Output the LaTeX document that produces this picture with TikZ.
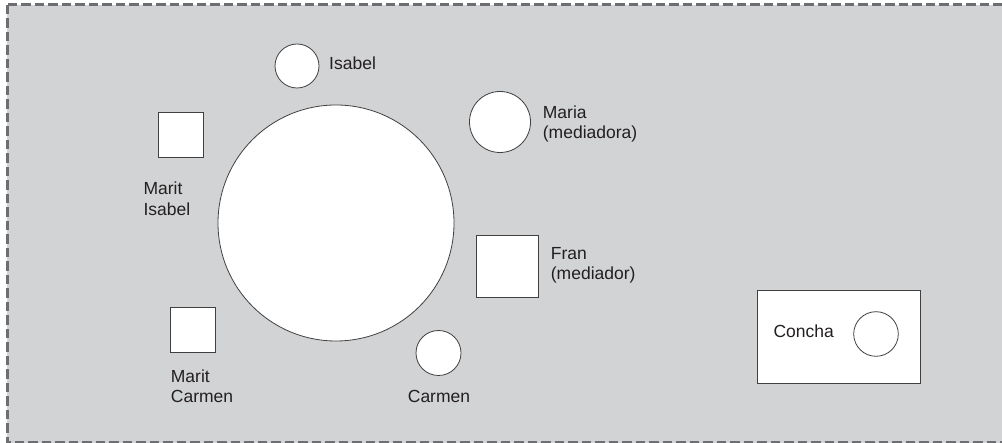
\documentclass[tikz,border=0pt]{standalone}
\usepackage{fontspec}
\setmainfont{Liberation Sans}

\definecolor{fondo}{HTML}{D1D3D4}
\definecolor{borde}{HTML}{6D6E71}
\definecolor{linea}{HTML}{404041}
\definecolor{texto}{HTML}{231F20}

\tikzset{
    mujer/.style={circle, draw=linea, fill=white, line width=0.8pt, inner sep=0pt, minimum size=#1},
    hombre/.style={rectangle, draw=linea, fill=white, line width=1pt, inner sep=0pt, minimum size=#1},
    rotulo/.style={font=\fontsize{17.5}{20.5}\selectfont, text=texto, inner sep=0pt, align=left},
}

\begin{document}
\begin{tikzpicture}[x=1pt, y=-1pt]
            \clip (0,0) rectangle (1002,443);
            % Hintergrund:
            \draw[borde, fill=fondo, line width=2.6pt, dash pattern=on 9.5pt off 4pt]
                (7.3,4.7) rectangle (1012,442.8);
            % Tisch:
            \node[mujer=236pt] (tisch) at (336,223) {};
            % Personen am Tisch:
            \node[mujer=44pt] (isabel) at (297,66) {};
            \node[rotulo, anchor=base west] (isabeltxt) at (329,69.3) {Isabel};
            \node[mujer=61pt] (maria) at (500,122) {};
            \node[rotulo, anchor=north west] (mariatxt) at (542.7,105.2) {Maria\\(mediadora)};
            \node[hombre=45pt] (maritisabel) at (181.3,135) {};
            \node[rotulo, anchor=north west] (maritisabeltxt) at (143.3,181.8) {Marit\\Isabel};
            \node[hombre=62pt] (fran) at (507.7,266.5) {};
            \node[rotulo, anchor=north west] (frantxt) at (550.7,246.8) {Fran\\(mediador)};
            \node[hombre=45pt] (maritcarmen) at (192.5,330) {};
            \node[rotulo, anchor=north west] (maritcarmentxt) at (170.7,369.2) {Marit\\Carmen};
            \node[mujer=45pt] (carmen) at (438.5,353) {};
            \node[rotulo, anchor=base] (carmentxt) at (439,403) {Carmen};
            % Concha:
            \draw[linea, fill=white, line width=1pt] (757.7,290.7) rectangle (920.7,383.3);
            \node[mujer=44.6pt] (concha) at (876,334) {};
            \node[rotulo, anchor=base west] (conchatxt) at (773.3,338) {Concha};
\end{tikzpicture}
\end{document}
